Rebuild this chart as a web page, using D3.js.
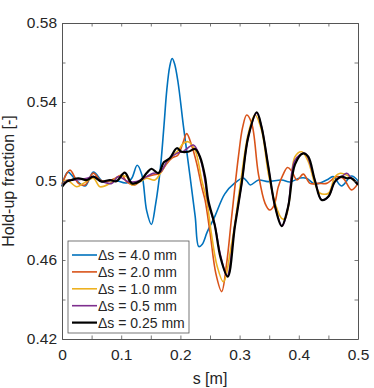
<!DOCTYPE html>
<html lang="en">
<head>
  <meta charset="UTF-8">
  <title>Hold-up fraction</title>
  <script src="https://d3js.org/d3.v7.min.js"></script>
  <style>
    body { margin: 0; background: #fff; }
    text { font-family: "Liberation Sans", Arial, sans-serif; fill: #262626; }
  </style>
</head>
<body>

  <script>
    ((window, document) => {
      "use strict";


      /**
       * -----------------------------------------------------------------------
       *  Data  ([s in m, hold-up fraction])
       * -----------------------------------------------------------------------
       */

      const ds40 = [
        [0, 0.4975], [0.01, 0.5045], [0.022, 0.501], [0.039, 0.4975], [0.053, 0.5045],
        [0.07, 0.4995], [0.087, 0.5005], [0.109, 0.499], [0.118, 0.5015], [0.127, 0.508],
        [0.135, 0.503], [0.143, 0.485], [0.151, 0.478], [0.158, 0.488], [0.166, 0.506],
        [0.172, 0.527], [0.177, 0.546], [0.182, 0.558], [0.186, 0.562], [0.19, 0.5595],
        [0.196, 0.55], [0.205, 0.528], [0.216, 0.503], [0.225, 0.482], [0.231, 0.4668],
        [0.237, 0.468], [0.245, 0.474], [0.258, 0.482], [0.275, 0.4935], [0.292, 0.499],
        [0.306, 0.5015], [0.312, 0.5], [0.318, 0.498], [0.332, 0.5005], [0.348, 0.4997],
        [0.371, 0.5005], [0.385, 0.4995], [0.402, 0.5015], [0.413, 0.5014], [0.427, 0.4985],
        [0.447, 0.5005], [0.458, 0.5022], [0.472, 0.4975], [0.489, 0.5025], [0.5, 0.5]
      ];

      const ds20 = [
        [0, 0.4985], [0.0135, 0.5055], [0.0276, 0.4988], [0.039, 0.498], [0.053, 0.504],
        [0.064, 0.5005], [0.075, 0.4997], [0.09, 0.5014], [0.101, 0.503], [0.109, 0.4997],
        [0.123, 0.498], [0.137, 0.5014], [0.154, 0.503], [0.166, 0.504], [0.175, 0.508],
        [0.185, 0.5115], [0.196, 0.5132], [0.204, 0.519], [0.2106, 0.524], [0.219, 0.518],
        [0.2275, 0.509], [0.236, 0.497], [0.2416, 0.4904], [0.25, 0.474], [0.26, 0.453],
        [0.2697, 0.444], [0.278, 0.458], [0.2866, 0.4819], [0.298, 0.5123], [0.305, 0.527],
        [0.312, 0.5334], [0.3204, 0.5292], [0.3316, 0.5039], [0.343, 0.4887], [0.351, 0.4853],
        [0.358, 0.4875], [0.3654, 0.4971], [0.373, 0.503], [0.381, 0.5068], [0.388, 0.505],
        [0.397, 0.5005], [0.4076, 0.5035], [0.419, 0.4988], [0.433, 0.4988], [0.447, 0.4988],
        [0.464, 0.5022], [0.475, 0.5014], [0.489, 0.4955], [0.5, 0.4988]
      ];

      const ds10 = [
        [0, 0.4988], [0.008, 0.5005], [0.025, 0.4971], [0.036, 0.4988], [0.053, 0.5014],
        [0.064, 0.4971], [0.081, 0.4988], [0.095, 0.5022], [0.109, 0.5022], [0.118, 0.498],
        [0.132, 0.4997], [0.143, 0.5014], [0.157, 0.5005], [0.166, 0.5039], [0.18, 0.5106],
        [0.195, 0.515], [0.205, 0.519], [0.213, 0.5199], [0.2247, 0.5157], [0.236, 0.5005],
        [0.2443, 0.4904], [0.252, 0.474], [0.262, 0.457], [0.2725, 0.449], [0.2866, 0.4684],
        [0.3007, 0.4971], [0.3147, 0.5241], [0.326, 0.5334], [0.337, 0.5258], [0.3485, 0.5039],
        [0.36, 0.4887], [0.371, 0.4811], [0.377, 0.481], [0.384, 0.49], [0.3936, 0.5123],
        [0.405, 0.5148], [0.416, 0.5098], [0.427, 0.4988], [0.436, 0.4938], [0.45, 0.4938],
        [0.461, 0.5022], [0.47, 0.5039], [0.481, 0.503], [0.492, 0.5005], [0.5, 0.4988]
      ];

      const ds05 = [
        [0, 0.498], [0.0107, 0.5005], [0.025, 0.5005], [0.042, 0.5014], [0.053, 0.5022],
        [0.067, 0.4997], [0.084, 0.4988], [0.095, 0.5022], [0.112, 0.4997], [0.126, 0.4997],
        [0.143, 0.5022], [0.154, 0.5039], [0.166, 0.5045], [0.18, 0.511], [0.194, 0.514],
        [0.205, 0.515], [0.222, 0.5182], [0.233, 0.512], [0.2416, 0.5], [0.247, 0.489],
        [0.258, 0.4777], [0.268, 0.462], [0.279, 0.452], [0.292, 0.4775], [0.3035, 0.4988],
        [0.3147, 0.5224], [0.329, 0.5343], [0.337, 0.5275], [0.3485, 0.5073], [0.36, 0.487],
        [0.372, 0.4772], [0.382, 0.487], [0.3936, 0.5106], [0.41, 0.514], [0.427, 0.5005],
        [0.4386, 0.4904], [0.45, 0.4921], [0.461, 0.4997], [0.4724, 0.5022], [0.481, 0.5039],
        [0.489, 0.5014], [0.5, 0.4988]
      ];

      const ds025 = [
        [0, 0.4971], [0.008, 0.4997], [0.0163, 0.5005], [0.0276, 0.5014], [0.042, 0.5005],
        [0.053, 0.5022], [0.067, 0.4997], [0.081, 0.5005], [0.092, 0.4999], [0.106, 0.5042],
        [0.118, 0.4988], [0.132, 0.5], [0.143, 0.504], [0.151, 0.5062], [0.163, 0.504],
        [0.172, 0.5095], [0.182, 0.5115], [0.194, 0.5166], [0.202, 0.5148], [0.213, 0.5148],
        [0.225, 0.5162], [0.233, 0.5123], [0.2416, 0.5022], [0.247, 0.4904], [0.258, 0.4777],
        [0.268, 0.461], [0.28, 0.4516], [0.292, 0.4769], [0.3035, 0.4988], [0.3147, 0.5224],
        [0.329, 0.5348], [0.337, 0.5275], [0.3485, 0.5073], [0.36, 0.487], [0.371, 0.4772],
        [0.382, 0.487], [0.3936, 0.5085], [0.4076, 0.514], [0.416, 0.5123], [0.427, 0.5005],
        [0.4386, 0.4904], [0.45, 0.4921], [0.461, 0.4997], [0.4724, 0.5022], [0.481, 0.5014],
        [0.489, 0.5014], [0.5, 0.498]
      ];

      const seriesNames = ["\u0394s = 4.0 mm", "\u0394s = 2.0 mm", "\u0394s = 1.0 mm", "\u0394s = 0.5 mm", "\u0394s = 0.25 mm"];
      const seriesData = [ds40, ds20, ds10, ds05, ds025];
      const colors = ["#0072bd", "#d95319", "#edb120", "#7e2f8e", "#000000"];

      const xTicks = [0, 0.05, 0.1, 0.15, 0.2, 0.25, 0.3, 0.35, 0.4, 0.45, 0.5];
      const xLabels = [0, 0.1, 0.2, 0.3, 0.4, 0.5];
      const yTicks = [0.42, 0.44, 0.46, 0.48, 0.5, 0.52, 0.54, 0.56, 0.58];
      const yLabels = [0.42, 0.46, 0.5, 0.54, 0.58];


      /**
       * -----------------------------------------------------------------------
       *  Render
       * -----------------------------------------------------------------------
       */

      const W = 374, H = 388;
      const L = 62, R = 358, T = 23, B = 339;
      const axisColor = "#555";

      const x = d3.scaleLinear().domain([0, 0.5]).range([L, R]);
      const y = d3.scaleLinear().domain([0.42, 0.58]).range([B, T]);

      const svg = d3.select("body").append("svg")
        .attr("width", W).attr("height", H);

      // lines
      const line = d3.line()
        .x(d => x(d[0]))
        .y(d => y(d[1]))
        .curve(d3.curveCatmullRom.alpha(0.5));

      svg.append("g").selectAll("path")
        .data(seriesData)
        .enter().append("path")
          .attr("d", line)
          .attr("fill", "none")
          .attr("stroke", (d, i) => colors[i])
          .attr("stroke-width", (d, i) => i === 4 ? 2.2 : 1.6)
          .attr("stroke-linejoin", "round");

      // axes (ticks pointing inward, box on)
      const fmt = d => d3.format("")(d);
      const tick = 3.5;

      const bottom = svg.append("g").attr("transform", `translate(0,${B})`)
        .call(d3.axisBottom(x).tickValues(xTicks).tickSizeInner(-tick).tickSizeOuter(0)
          .tickFormat(d => xLabels.some(v => Math.abs(v - d) < 1e-9) ? fmt(d) : ""));
      const top = svg.append("g").attr("transform", `translate(0,${T})`)
        .call(d3.axisTop(x).tickValues(xTicks).tickSizeInner(-tick).tickSizeOuter(0).tickFormat(""));
      const left = svg.append("g").attr("transform", `translate(${L},0)`)
        .call(d3.axisLeft(y).tickValues(yTicks).tickSizeInner(-tick).tickSizeOuter(0)
          .tickFormat(d => yLabels.some(v => Math.abs(v - d) < 1e-9) ? fmt(d) : ""));
      const right = svg.append("g").attr("transform", `translate(${R},0)`)
        .call(d3.axisRight(y).tickValues(yTicks).tickSizeInner(-tick).tickSizeOuter(0).tickFormat(""));

      [bottom, top, left, right].forEach(g => {
        g.selectAll(".domain").attr("stroke", axisColor).attr("stroke-width", 1);
        g.selectAll(".tick line").attr("stroke", axisColor).attr("stroke-width", 0.8);
        g.selectAll(".tick text").attr("font-size", 15.5).attr("font-family", null).attr("fill", "#262626");
      });
      bottom.selectAll(".tick text").attr("dy", "1.05em").attr("y", 5);
      left.selectAll(".tick text").attr("x", -5);

      // axis labels
      svg.append("text")
        .attr("x", (L + R) / 2).attr("y", 384)
        .attr("text-anchor", "middle").attr("font-size", 16)
        .text("s [m]");
      svg.append("text")
        .attr("transform", `translate(14,${(T + B) / 2}) rotate(-90)`)
        .attr("text-anchor", "middle").attr("font-size", 16)
        .text("Hold-up fraction [-]");

      // legend
      const legend = svg.append("g").attr("transform", "translate(68,241)");
      legend.append("rect")
        .attr("width", 121).attr("height", 92)
        .attr("fill", "#fff").attr("stroke", axisColor).attr("stroke-width", 0.8);

      const items = legend.selectAll("g.item")
        .data(seriesNames)
        .enter().append("g")
          .attr("class", "item")
          .attr("transform", (d, i) => `translate(0,${14 + i * 16.9})`);
      items.append("line")
        .attr("x1", 4).attr("x2", 29)
        .attr("stroke", (d, i) => colors[i])
        .attr("stroke-width", (d, i) => i === 4 ? 2.2 : 1.6);
      items.append("text")
        .attr("x", 30).attr("dy", "0.36em")
        .attr("font-size", 14)
        .text(d => d);

    })(window, document);
  </script>

</body>
</html>
